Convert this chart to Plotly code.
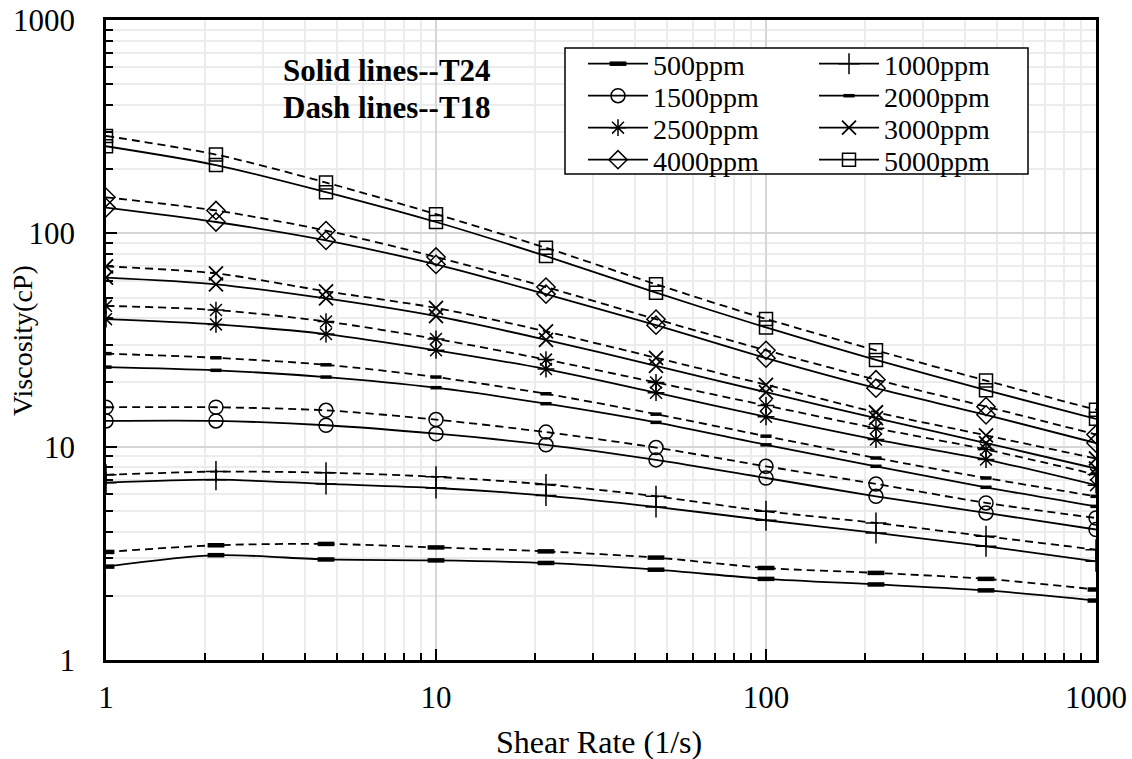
import plotly.graph_objects as go

# ---------------- data ----------------
shear_rate = [1, 2.154, 4.642, 10, 21.54, 46.42, 100, 215.4, 464.2, 1000]
labels = ["500ppm", "1000ppm", "1500ppm", "2000ppm", "2500ppm", "3000ppm", "4000ppm", "5000ppm"]

# solid lines: T24
t24_500 = [2.74, 3.10, 2.96, 2.93, 2.85, 2.65, 2.40, 2.26, 2.12, 1.90]
t24_1000 = [6.78, 7.00, 6.69, 6.40, 5.90, 5.22, 4.52, 3.94, 3.41, 2.90]
t24_1500 = [13.2, 13.2, 12.6, 11.5, 10.2, 8.67, 7.13, 5.85, 4.89, 4.09]
t24_2000 = [23.6, 22.8, 21.2, 18.9, 15.9, 13.0, 10.2, 8.09, 6.45, 5.25]
t24_2500 = [39.6, 37.4, 33.7, 28.3, 23.1, 17.9, 13.8, 10.8, 8.7, 6.6]
t24_3000 = [62.0, 57.7, 49.5, 40.9, 31.7, 23.9, 18.0, 13.6, 10.4, 7.9]
t24_4000 = [132, 113, 92.7, 71.5, 51.9, 37.1, 26.0, 18.8, 14.1, 10.4]
t24_5000 = [256, 209, 156, 113, 78.2, 52.7, 36.2, 25.5, 18.4, 13.5]

# dash lines: T18
t18_500 = [3.21, 3.45, 3.50, 3.37, 3.23, 3.02, 2.70, 2.56, 2.40, 2.14]
t18_1000 = [7.38, 7.64, 7.55, 7.22, 6.65, 5.85, 4.98, 4.39, 3.80, 3.29]
t18_1500 = [15.3, 15.3, 14.8, 13.4, 11.7, 9.9, 8.09, 6.69, 5.45, 4.63]
t18_2000 = [27.3, 26.1, 24.2, 21.2, 17.7, 14.2, 11.2, 8.85, 7.13, 5.85]
t18_2500 = [45.7, 43.7, 38.6, 32.0, 25.6, 20.0, 15.6, 12.2, 9.7, 7.4]
t18_3000 = [70.0, 64.9, 53.5, 44.7, 34.7, 26.1, 19.5, 14.5, 11.3, 8.8]
t18_4000 = [147.5, 128, 103, 77.5, 56.0, 39.6, 28.3, 20.6, 15.4, 11.4]
t18_5000 = [286, 234, 173, 123, 85.5, 57.7, 39.7, 28.3, 20.4, 14.9]

major_ticks = [1, 10, 100, 1000]
major_text = ["1", "10", "100", "1000"]
minor_ticks = [m * d for d in (1, 10, 100) for m in range(2, 10)]

solid_series = [t24_500, t24_1000, t24_1500, t24_2000, t24_2500, t24_3000, t24_4000, t24_5000]
dash_series = [t18_500, t18_1000, t18_1500, t18_2000, t18_2500, t18_3000, t18_4000, t18_5000]

# ---------------- styles ----------------
FONT = "Liberation Serif"
marker_styles = [
    dict(symbol="line-ew", size=12, line=dict(width=4.5, color="black")),
    dict(symbol="cross-thin", size=15, line=dict(width=1.5, color="black")),
    dict(symbol="circle-open", size=14, line=dict(width=1.5, color="black")),
    dict(symbol="line-ew", size=8, line=dict(width=3.5, color="black")),
    dict(symbol="asterisk", size=14, line=dict(width=1.5, color="black")),
    dict(symbol="x-thin", size=14, line=dict(width=1.8, color="black")),
    dict(symbol="diamond-open", size=14, line=dict(width=1.5, color="black")),
    dict(symbol="square-open", size=13, line=dict(width=1.5, color="black")),
]

# plot area in pixels
L, R, T, B = 106, 1096, 20, 660
W, H = R - L, B - T


def px_x(px):
    return (px - L) / W


def px_y(py):
    return (B - py) / H


fig = go.Figure()

legend_names = ["legend"] + [f"legend{i}" for i in range(2, 9)]

for i, name in enumerate(labels):
    fig.add_trace(go.Scatter(
        x=shear_rate, y=dash_series[i], mode="lines+markers",
        line=dict(color="black", width=1.8, dash="8px,5px", shape="spline", smoothing=0.8),
        marker=dict(color="black", **marker_styles[i]),
        showlegend=False, name=name + " T18",
    ))
    fig.add_trace(go.Scatter(
        x=shear_rate, y=solid_series[i], mode="lines+markers",
        line=dict(color="black", width=1.8, shape="spline", smoothing=0.8),
        marker=dict(color="black", **marker_styles[i]),
        showlegend=True, name=name, legend=legend_names[i],
    ))

axis_common = dict(
    type="log", range=[0, 3],
    tickmode="array", tickvals=major_ticks, ticktext=major_text,
    ticks="inside", ticklen=11, tickwidth=1.5, tickcolor="black",
    showgrid=True, gridcolor="#d6d6d6", gridwidth=1.5,
    minor=dict(tickmode="array", tickvals=minor_ticks, ticks="inside", ticklen=7,
               tickwidth=1.5, tickcolor="black", showgrid=True,
               gridcolor="#ececec", gridwidth=1.5),
    showline=True, linecolor="black", linewidth=2.5, mirror=True,
    zeroline=False,
    tickfont=dict(family=FONT, size=31, color="black"),
)

fig.update_layout(
    width=1132, height=759,
    margin=dict(l=L, r=1132 - R, t=T, b=759 - B, autoexpand=False),
    paper_bgcolor="white", plot_bgcolor="white",
    font=dict(family=FONT, size=30, color="black"),
    xaxis=dict(**axis_common, ticklabelstandoff=8),
    yaxis=dict(**axis_common, ticklabelstandoff=22),
    showlegend=True,
)

# legend: 2 columns x 4 rows, each entry its own legend for exact placement
col_px = [583, 814]
row_py = [64, 96, 128, 160]
order_positions = [(0, 0), (1, 0), (0, 1), (1, 1), (0, 2), (1, 2), (0, 3), (1, 3)]
for i, lname in enumerate(legend_names):
    c, r = order_positions[i]
    fig.update_layout({lname: dict(
        x=px_x(col_px[c]), y=px_y(row_py[r]), xanchor="left", yanchor="middle",
        bgcolor="rgba(0,0,0,0)", borderwidth=0,
        font=dict(family=FONT, size=28, color="black"),
        itemwidth=60,
    )})

# legend frame
fig.add_shape(type="rect", xref="paper", yref="paper",
              x0=px_x(565), x1=px_x(1028), y0=px_y(174), y1=px_y(48),
              line=dict(color="black", width=1.5), fillcolor="white", layer="above")

# text annotations
fig.add_annotation(text="<b>Solid lines--T24</b>", xref="paper", yref="paper",
                   x=px_x(281), y=px_y(70), xanchor="left", yanchor="middle",
                   showarrow=False, font=dict(family=FONT, size=31, color="black"))
fig.add_annotation(text="<b>Dash lines--T18</b>", xref="paper", yref="paper",
                   x=px_x(281), y=px_y(107), xanchor="left", yanchor="middle",
                   showarrow=False, font=dict(family=FONT, size=31, color="black"))
fig.add_annotation(text="Shear Rate (1/s)", xref="paper", yref="paper",
                   x=0.498, y=px_y(742), xanchor="center", yanchor="middle",
                   showarrow=False, font=dict(family=FONT, size=32, color="black"))
fig.add_annotation(text="Viscosity(cP)", xref="paper", yref="paper",
                   x=px_x(22), y=px_y(341), xanchor="center", yanchor="middle", textangle=-90,
                   showarrow=False, font=dict(family=FONT, size=28, color="black"))

fig.write_html("out.html")
